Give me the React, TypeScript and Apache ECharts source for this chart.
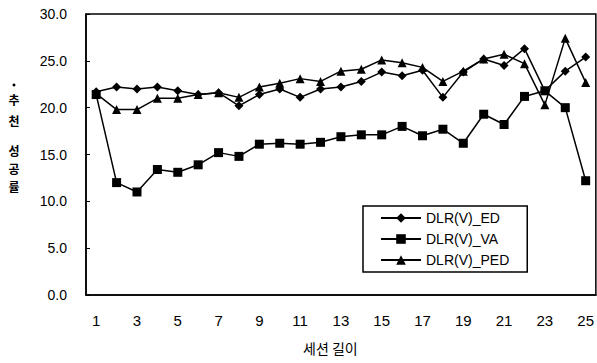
import React, { useEffect, useRef } from "react";
import * as echarts from "echarts";

const categories = ["1","2","3","4","5","6","7","8","9","10","11","12","13","14","15","16","17","18","19","20","21","22","23","24","25"];
const edValues = [21.7, 22.2, 22.0, 22.2, 21.8, 21.4, 21.6, 20.2, 21.4, 22.0, 21.1, 22.0, 22.2, 22.8, 23.8, 23.4, 24.0, 21.1, 23.8, 25.2, 24.5, 26.3, 21.8, 23.9, 25.4];
const vaValues = [21.4, 12.0, 11.0, 13.4, 13.1, 13.9, 15.2, 14.8, 16.1, 16.2, 16.1, 16.3, 16.9, 17.1, 17.1, 18.0, 17.0, 17.7, 16.2, 19.3, 18.2, 21.2, 21.8, 20.0, 12.2];
const pedValues = [21.5, 19.8, 19.8, 21.0, 21.0, 21.4, 21.6, 21.1, 22.2, 22.6, 23.1, 22.8, 23.9, 24.1, 25.1, 24.8, 24.3, 22.8, 23.9, 25.2, 25.7, 24.7, 20.3, 27.4, 22.7];
const seriesNames = ["DLR(V)_ED", "DLR(V)_VA", "DLR(V)_PED"];
const xTitle = "세션 길이";
const yTitleChars = ["추", "천", "성", "공", "률"];
const yTitleCharY = [99, 120, 150, 168, 186];

const FONT = "'Liberation Sans', Arial, sans-serif";
const KFONT = "'Noto Sans CJK KR', sans-serif";

export default function App() {
  const ref = useRef<HTMLDivElement>(null);
  useEffect(() => {
    if (!ref.current) return;
    const chart = echarts.init(ref.current, null, { renderer: "svg" });
    const mk = (name: string, data: number[], symbol: string, size: number) => ({
      name,
      type: "line",
      data,
      symbol,
      symbolSize: size,
      lineStyle: { color: "#000", width: 1.5 },
      itemStyle: { color: "#000" },
      z: 3,
    });
    chart.setOption({
      animation: false,
      backgroundColor: "#fff",
      textStyle: { fontFamily: FONT, color: "#000" },
      grid: {
        left: 86,
        top: 14,
        right: 1,
        bottom: 68,
        show: true,
        borderColor: "#000",
        borderWidth: 1.5,
        backgroundColor: "transparent",
      },
      legend: {
        orient: "vertical",
        left: 363,
        top: 206,
        itemWidth: 40,
        itemHeight: 12,
        itemGap: 7,
        padding: [5, 18, 5, 17],
        borderColor: "#000",
        borderWidth: 1.5,
        backgroundColor: "#fff",
        textStyle: { fontFamily: FONT, fontSize: 14, color: "#000" },
        data: seriesNames,
      },
      xAxis: {
        type: "category",
        data: categories,
        boundaryGap: true,
        axisLine: { lineStyle: { color: "#000", width: 1.5 } },
        axisTick: { inside: true, length: 4, lineStyle: { color: "#000" } },
        axisLabel: { interval: 1, color: "#000", fontSize: 15, fontFamily: FONT, margin: 18 },
      },
      yAxis: {
        type: "value",
        min: 0,
        max: 30,
        interval: 5,
        splitLine: { show: false },
        axisLine: { show: true, lineStyle: { color: "#000", width: 1.5 } },
        axisTick: { show: true, inside: true, length: 4, lineStyle: { color: "#000" } },
        axisLabel: {
          color: "#000",
          fontSize: 14,
          fontFamily: FONT,
          margin: 19,
          formatter: (v: number) => v.toFixed(1),
        },
      },
      graphic: [
        {
          type: "text",
          left: 303,
          top: 341,
          style: { text: xTitle, fontSize: 14, fontFamily: KFONT, fill: "#000" },
        },
        ...yTitleChars.map((c, i) => ({
          type: "text",
          x: 14,
          y: yTitleCharY[i],
          style: {
            text: c,
            fontSize: 12,
            fontFamily: KFONT,
            fontWeight: "bold",
            fill: "#000",
            align: "center",
            verticalAlign: "middle",
          },
        })),
        { type: "circle", shape: { cx: 14, cy: 85, r: 1.5 }, style: { fill: "#000" } },
      ],
      series: [
        mk(seriesNames[0], edValues, "diamond", 9),
        mk(seriesNames[1], vaValues, "rect", 9),
        mk(seriesNames[2], pedValues, "triangle", 9),
      ],
    });
    return () => chart.dispose();
  }, []);
  return <div ref={ref} style={{ width: 597, height: 363, position: "absolute", left: 0, top: 0 }} />;
}
